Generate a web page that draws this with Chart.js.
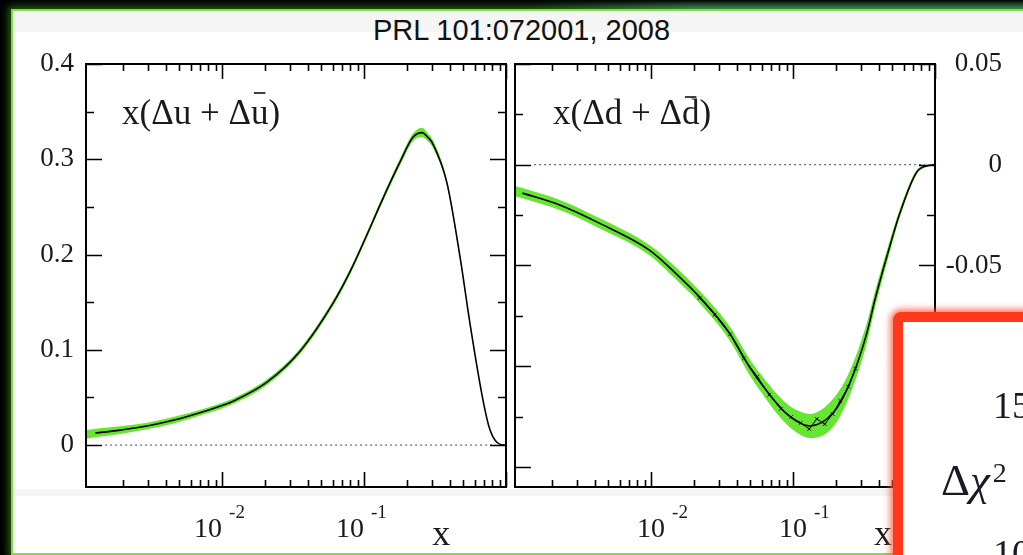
<!DOCTYPE html>
<html>
<head>
<meta charset="utf-8">
<script src="https://cdn.jsdelivr.net/npm/chart.js@4.4.0/dist/chart.umd.min.js"></script>
<style>
  html, body { margin: 0; padding: 0; background: #000; width: 1023px; height: 555px; overflow: hidden; }
  #topglow { position: absolute; left: 520px; top: 0; width: 503px; height: 10px;
    background: linear-gradient(180deg, rgba(0,0,0,0) 0%, rgba(70,150,125,0.85) 100%);
    -webkit-mask-image: linear-gradient(90deg, transparent, #000 35%); mask-image: linear-gradient(90deg, transparent, #000 35%); }
  #slide { position: absolute; left: 11px; top: 9px; width: 1040px; height: 542px; background: #fff;
    border: 2px solid #86d94a; box-shadow: 0 0 7px 3px rgba(60,160,35,0.55); }
  #band1 { position: absolute; left: 14px; top: 12px; width: 1009px; height: 20px; background: #f5f5f5; }
  #band2 { position: absolute; left: 14px; top: 489px; width: 1009px; height: 7px; background: #f5f5f5; }
  #title { position: absolute; left: 0; top: 12px; width: 1043px; text-align: center;
    font: 29px "Liberation Sans", Arial, sans-serif; color: #111; line-height: 36px; }
  canvas { position: absolute; left: 0; top: 0; }
  #chi { position: absolute; left: 893px; top: 312px; width: 150px; height: 260px; background: #fff;
    border: 10px solid #ff3a1c; border-radius: 8px; box-shadow: 0 0 6px 3px rgba(255,80,50,0.75);
    font-family: "Liberation Serif", serif; color: #1a1a26; }
  #chi span { position: absolute; white-space: nowrap; }
</style>
</head>
<body>
<div id="topglow"></div>
<div id="slide"></div>
<div id="band1"></div>
<div id="band2"></div>
<div id="title">PRL 101:072001, 2008</div>
<canvas id="cu" width="1023" height="555"></canvas>
<canvas id="cd" width="1023" height="555"></canvas>
<div id="chi">
  <span style="left:90px; top:64px; font-size:38px; line-height:38px;">15</span>
  <span style="left:38px; top:136px; font-size:45px; line-height:45px;">Δ<i>χ</i><sup style="font-size:28px; position:relative; top:-8px; vertical-align:top; font-style:normal; margin-left:3px;">2</sup></span>
  <span style="left:90px; top:212px; font-size:38px; line-height:38px;">10</span>
</div>
<script>
const xMin = 0.0011;
const xMax = 1;
const xLabelValues = [0.01, 0.1];
const zeroLineX = [0.0015, 0.85];

// x(Δu + Δū)
const uX   = [0.0011, 0.00128, 0.00191, 0.00296, 0.00467, 0.00735, 0.01, 0.01195, 0.0207, 0.0354, 0.0605, 0.0797, 0.105, 0.136, 0.179, 0.221, 0.256, 0.282, 0.306, 0.384, 0.475, 0.557, 0.689, 0.771, 0.9, 1];
const uVal = [0.0112, 0.0126, 0.0157, 0.020, 0.0265, 0.035, 0.0415, 0.046, 0.066, 0.0985, 0.149, 0.182, 0.221, 0.259, 0.297, 0.323, 0.328, 0.323, 0.316, 0.275, 0.197, 0.128, 0.047, 0.016, 0.001, 0];
const uErr = [0.0045, 0.0045, 0.004, 0.0035, 0.0035, 0.003, 0.003, 0.003, 0.003, 0.003, 0.003, 0.003, 0.003, 0.003, 0.0035, 0.004, 0.005, 0.004, 0.004, 0.003, 0.002, 0.001, 0.0008, 0.0005, 0.0002, 0];

// x(Δd + Δd̄)
const dX   = [0.0011, 0.00124, 0.00225, 0.00431, 0.00973, 0.0146, 0.0219, 0.0357, 0.0494, 0.0648, 0.0845, 0.105, 0.131, 0.191, 0.251, 0.331, 0.377, 0.465, 0.566, 0.745, 0.92, 1];
const dVal = [-0.0131, -0.0141, -0.0199, -0.0290, -0.0424, -0.0533, -0.0656, -0.0836, -0.1004, -0.112, -0.1218, -0.1272, -0.1297, -0.1233, -0.1084, -0.0836, -0.0672, -0.044, -0.024, -0.0036, -0.0003, 0];
const dErr = [0.0025, 0.0025, 0.0025, 0.0025, 0.0025, 0.003, 0.003, 0.0035, 0.004, 0.0045, 0.005, 0.0055, 0.006, 0.007, 0.006, 0.005, 0.004, 0.003, 0.002, 0.001, 0.0003, 0];

// second (marked) fit near the minimum
const dAltX   = [0.022, 0.028, 0.036, 0.045, 0.056, 0.068, 0.082, 0.097, 0.113, 0.13, 0.147, 0.167, 0.19, 0.215, 0.245, 0.275];
const dAltVal = [-0.0662, -0.0745, -0.0842, -0.0962, -0.1052, -0.1142, -0.1212, -0.1252, -0.1282, -0.1312, -0.1262, -0.1288, -0.1238, -0.1172, -0.1102, -0.1012];

const GREEN = '#66e633';
const SERIF = '"Liberation Serif", "Times New Roman", serif';

const pts = (xs, ys) => xs.map((x, i) => ({ x: x, y: ys[i] }));
const shift = (xs, ys, es, s) => xs.map((x, i) => ({ x: x, y: ys[i] + s * es[i] }));

function fmt(step) {
  return function (v) {
    const r = Math.round(v / step);
    if (Math.abs(v / step - r) > 1e-6) return '';
    return String(+(r * step).toFixed(2));
  };
}

// frame, inward ticks, exponent labels and curve caption
const frame = {
  id: 'frame',
  afterDraw(chart, args, o) {
    const { ctx, chartArea: a } = chart;
    const x = chart.scales.x, y = chart.scales.y;
    ctx.save();
    ctx.strokeStyle = '#000';
    ctx.lineWidth = 2;
    ctx.strokeRect(a.left, a.top, a.right - a.left, a.bottom - a.top);
    ctx.lineWidth = 1.6;
    ctx.beginPath();
    for (let d = -3; d <= 0; d++) {
      for (let k = 1; k <= 9; k++) {
        const v = k * Math.pow(10, d);
        if (v < x.min * 0.999 || v > x.max * 1.001) continue;
        const px = Math.round(x.getPixelForValue(v)) + 0.5;
        const len = k === 1 ? 15 : 7;
        ctx.moveTo(px, a.bottom); ctx.lineTo(px, a.bottom - len);
        ctx.moveTo(px, a.top); ctx.lineTo(px, a.top + len);
      }
    }
    const ratio = Math.round(o.major / o.minor);
    for (let i = Math.ceil(y.min / o.minor - 1e-9); i * o.minor <= y.max + 1e-9; i++) {
      const py = Math.round(y.getPixelForValue(i * o.minor)) + 0.5;
      const len = i % ratio === 0 ? 16 : 8;
      ctx.moveTo(a.left, py); ctx.lineTo(a.left + len, py);
      ctx.moveTo(a.right, py); ctx.lineTo(a.right - len, py);
    }
    ctx.stroke();

    ctx.fillStyle = '#1a1a1a';
    ctx.textBaseline = 'alphabetic';
    xLabelValues.forEach(v => {
      const px = x.getPixelForValue(v) + o.labelDx;
      ctx.font = '28px ' + SERIF;
      ctx.textAlign = 'center';
      ctx.fillText('10', px, 537);
      const w = ctx.measureText('10').width;
      ctx.font = '19px ' + SERIF;
      ctx.textAlign = 'left';
      ctx.fillText(String(Math.round(Math.log10(v))), px + w / 2 + 7, 518);
    });
    ctx.font = '36px ' + SERIF;
    ctx.textAlign = 'center';
    ctx.fillText('x', x.getPixelForValue(o.titleAt), 545);

    ctx.font = '35px ' + SERIF;
    ctx.textAlign = 'left';
    const lx = a.left + o.capDx;
    const w1 = ctx.measureText(o.cap[0]).width;
    const w2 = ctx.measureText(o.cap[1]).width;
    ctx.fillText(o.cap.join(''), lx, 124);
    ctx.lineWidth = 1.5;
    ctx.beginPath();
    ctx.moveTo(lx + w1 + 3, o.barY); ctx.lineTo(lx + w1 + w2 - 3, o.barY);
    ctx.stroke();
    ctx.restore();
  }
};

function axes(yMin, yMax, step, pos, width) {
  return {
    x: { type: 'logarithmic', min: xMin, max: xMax,
         grid: { display: false, drawTicks: false }, border: { display: false },
         ticks: { display: false }, afterFit(s) { s.height = 68; } },
    y: { position: pos, min: yMin, max: yMax,
         grid: { display: false, drawTicks: false }, border: { display: false },
         ticks: { stepSize: step, padding: 12, crossAlign: pos === 'right' ? 'far' : 'near',
                  color: '#1a1a1a', font: { family: SERIF, size: 27 }, callback: fmt(step) },
         afterFit(s) { s.width = width; } }
  };
}

// lower "order" is painted on top
function datasets(xs, ys, es, extra) {
  const smooth = { cubicInterpolationMode: 'monotone', pointRadius: 0 };
  const sets = [
    Object.assign({ data: shift(xs, ys, es, -1), borderWidth: 0, fill: false, order: 3 }, smooth),
    Object.assign({ data: shift(xs, ys, es, 1), borderWidth: 0, fill: '-1', backgroundColor: GREEN, order: 3 }, smooth),
    { data: zeroLineX.map(x => ({ x: x, y: 0 })), borderColor: '#444', borderWidth: 1, borderDash: [2, 3], pointRadius: 0, order: 2 },
    Object.assign({ data: pts(xs, ys).slice(1), borderColor: '#000', borderWidth: 1.6, order: 0 }, smooth)
  ];
  return sets.concat(extra || []);
}

Chart.defaults.animation = false;

new Chart(document.getElementById('cu'), {
  type: 'line',
  data: { datasets: datasets(uX, uVal, uErr) },
  options: {
    responsive: false,
    layout: { padding: { left: 16, top: 64, right: 517, bottom: 0 } },
    plugins: { legend: { display: false }, tooltip: { enabled: false },
      frame: { major: 0.1, minor: 0.05, labelDx: -14, titleAt: 0.35, capDx: 36, cap: ['x(Δu + Δ', 'u', ')'], barY: 93 } },
    scales: axes(-0.044, 0.4, 0.1, 'left', 70)
  },
  plugins: [frame]
});

new Chart(document.getElementById('cd'), {
  type: 'line',
  data: { datasets: datasets(dX, dVal, dErr, [
    { data: pts(dAltX, dAltVal), borderColor: '#000', borderWidth: 1, tension: 0, order: 1,
      pointStyle: 'crossRot', pointRadius: 2.5, pointBorderWidth: 1, pointBorderColor: '#000' }
  ]) },
  options: {
    responsive: false,
    layout: { padding: { left: 515, top: 64, right: 21, bottom: 0 } },
    plugins: { legend: { display: false }, tooltip: { enabled: false },
      frame: { major: 0.05, minor: 0.025, labelDx: 0, titleAt: 0.43, capDx: 38, cap: ['x(Δd + Δ', 'd', ')'], barY: 97 } },
    scales: axes(-0.16, 0.05, 0.05, 'right', 67)
  },
  plugins: [frame]
});
</script>
</body>
</html>
